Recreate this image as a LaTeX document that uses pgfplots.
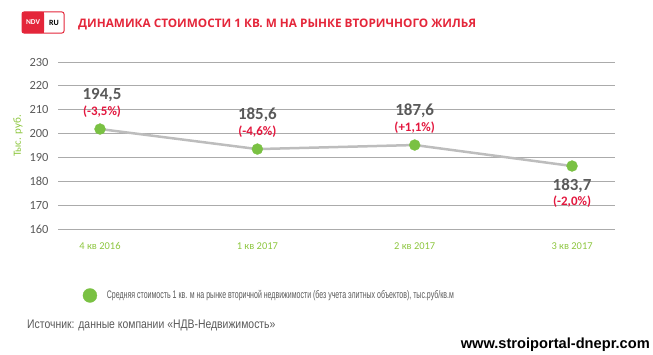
\documentclass[border=0pt]{standalone}
\usepackage{pgfplots}
\pgfplotsset{compat=1.18}
\usepackage{fontspec}
\setmainfont{Carlito}
\newfontfamily\titlefont{Open Sans}
\newfontfamily\narrowfont[FakeStretch=0.64]{Liberation Sans}
\newfontfamily\srcfont[FakeStretch=0.836]{Liberation Sans}
\newfontfamily\wmfont{Liberation Sans}
\definecolor{ptgreen}{HTML}{7AC143}
\definecolor{linegray}{HTML}{BDBDBD}
\definecolor{gridgray}{HTML}{ABABAB}
\definecolor{txtgray}{HTML}{595959}
\definecolor{ndvred}{HTML}{E4263A}
\definecolor{pctred}{HTML}{E3173E}
\definecolor{tickgreen}{HTML}{8DC63F}
\begin{document}
\begin{tikzpicture}[x=1bp,y=1bp]
\path[use as bounding box] (0,0) rectangle (653,354);
% logo
\draw[ndvred, line width=1bp, rounded corners=2bp, fill=white] (22,321) rectangle (64,342);
\fill[ndvred, rounded corners=2bp] (22,321) rectangle (44,342);
\fill[ndvred] (39,321) rectangle (44,342);
\node[text=white, font=\bfseries\fontsize{7.5}{8}\selectfont, inner sep=0] at (33,332) {NDV};
\node[text=black, font=\bfseries\fontsize{8}{9}\selectfont, inner sep=0] at (54,331.5) {RU};
% title
\node[anchor=west, text=ndvred, font=\titlefont\bfseries\fontsize{11.8}{13}\selectfont, inner sep=0] at (78,330) {ДИНАМИКА СТОИМОСТИ 1 КВ. М НА  РЫНКЕ ВТОРИЧНОГО ЖИЛЬЯ};
% y label
\node[rotate=90, text=tickgreen, font=\fontsize{11}{13}\selectfont] at (18,218) {Тыс. руб.};
\begin{axis}[
  at={(58bp,125bp)}, anchor=south west, scale only axis,
  width=557bp, height=167bp,
  xmin=-0.267, xmax=3.273, ymin=160, ymax=230,
  axis line style={draw=none},
  major tick length=0pt,
  ytick={160,170,...,230},
  xtick={0,1,2,3},
  xticklabels={4 кв 2016, 1 кв 2017, 2 кв 2017, 3 кв 2017},
  extra y ticks={180,190}, extra y tick labels={},
  extra y tick style={grid style={gridgray, line width=2bp}},
  ymajorgrids,
  major grid style={gridgray, line width=1bp},
  /pgf/number format/assume math mode=true,
  yticklabel style={text=txtgray, font=\fontsize{12.5}{14}\selectfont, xshift=-6bp},
  xticklabel style={text=tickgreen, font=\fontsize{10.5}{12}\selectfont, anchor=center, yshift=-17bp},
  clip=false,
  legend style={at={(0.0444,-0.398)}, anchor=west, draw=none, fill=none,
    font=\narrowfont\fontsize{11}{13}\selectfont, text=txtgray,
    legend cell align=left, inner sep=0pt, column sep=8bp},
  legend image code/.code={\draw[#1] plot coordinates {(0.22cm,0cm)};},
]
\addplot[linegray, line width=2.5bp, mark=*, mark size=5.5bp,
  mark options={draw=ptgreen, fill=ptgreen, line width=0.3bp}, forget plot]
  coordinates {(0,201.9) (1,193.5) (2,195.2) (3,186.4)};
\addlegendimage{only marks, mark=*, mark size=7bp, mark options={draw=ptgreen, fill=ptgreen, line width=0.3bp}}
\addlegendentry{Средняя стоимость 1 кв. м на рынке вторичной недвижимости (без учета элитных объектов), тыс.руб/кв.м}
\node[text=txtgray, font=\bfseries\fontsize{17}{19}\selectfont] at (axis cs:0,201.9) [yshift=34bp, xshift=2bp] {194,5};
\node[text=pctred, font=\bfseries\fontsize{13}{15}\selectfont] at (axis cs:0,201.9) [yshift=17bp, xshift=2bp] {(-3,5\%)};
\node[text=txtgray, font=\bfseries\fontsize{17}{19}\selectfont] at (axis cs:1,193.5) [yshift=34bp] {185,6};
\node[text=pctred, font=\bfseries\fontsize{13}{15}\selectfont] at (axis cs:1,193.5) [yshift=17bp] {(-4,6\%)};
\node[text=txtgray, font=\bfseries\fontsize{17}{19}\selectfont] at (axis cs:2,195.2) [yshift=34bp] {187,6};
\node[text=pctred, font=\bfseries\fontsize{13}{15}\selectfont] at (axis cs:2,195.2) [yshift=17bp] {(+1,1\%)};
\node[text=txtgray, font=\bfseries\fontsize{17}{19}\selectfont] at (axis cs:3,186.4) [yshift=-20bp] {183,7};
\node[text=pctred, font=\bfseries\fontsize{13}{15}\selectfont] at (axis cs:3,186.4) [yshift=-36bp] {(-2,0\%)};
\end{axis}
% source
\node[anchor=west, text=txtgray, font=\srcfont\fontsize{12.5}{14}\selectfont, inner sep=0] at (27,28.7) {Источник: данные компании «НДВ-Недвижимость»};
% watermark
\node[anchor=east, text=black, font=\wmfont\bfseries\fontsize{14.7}{17}\selectfont, inner sep=0] at (650,9) {www.stroiportal-dnepr.com};
\end{tikzpicture}
\end{document}
